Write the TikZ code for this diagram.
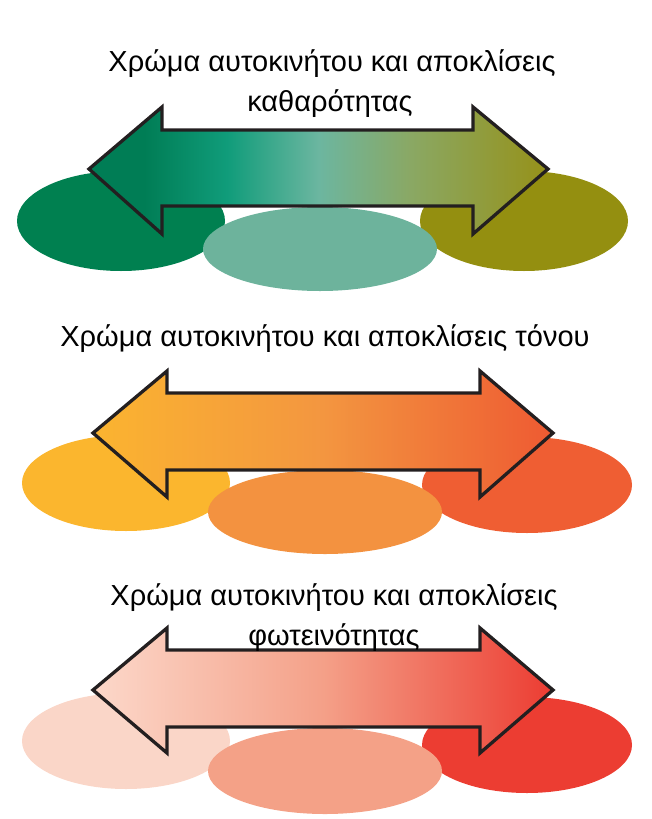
\documentclass[tikz,border=0pt]{standalone}
\usepackage{fontspec}
\setmainfont{Liberation Sans}
\definecolor{g1}{RGB}{0,125,85}
\definecolor{g2}{RGB}{16,156,122}
\definecolor{g3}{RGB}{108,182,160}
\definecolor{g4}{RGB}{138,168,100}
\definecolor{g5}{RGB}{150,145,25}
\definecolor{gL}{RGB}{0,128,80}
\definecolor{gC}{RGB}{109,179,156}
\definecolor{gR}{RGB}{148,143,16}
\definecolor{o1}{RGB}{251,180,48}
\definecolor{o3}{RGB}{243,150,64}
\definecolor{o5}{RGB}{238,90,50}
\definecolor{oL}{RGB}{251,182,46}
\definecolor{oC}{RGB}{243,146,64}
\definecolor{oR}{RGB}{239,94,51}
\definecolor{r1}{RGB}{252,216,202}
\definecolor{r3}{RGB}{244,160,136}
\definecolor{r5}{RGB}{236,60,50}
\definecolor{rL}{RGB}{250,214,200}
\definecolor{rC}{RGB}{244,161,135}
\definecolor{rR}{RGB}{236,61,50}
\definecolor{outline}{RGB}{35,31,32}
\pgfdeclarehorizontalshading{greensh}{100bp}{color(0bp)=(g1); color(25bp)=(g1); color(31bp)=(g1); color(40bp)=(g2); color(50bp)=(g3); color(60bp)=(g4); color(75bp)=(g5); color(100bp)=(g5)}
\pgfdeclarehorizontalshading{orangesh}{100bp}{color(0bp)=(o1); color(25bp)=(o1); color(50bp)=(o3); color(75bp)=(o5); color(100bp)=(o5)}
\pgfdeclarehorizontalshading{redsh}{100bp}{color(0bp)=(r1); color(25bp)=(r1); color(50bp)=(r3); color(75bp)=(r5); color(100bp)=(r5)}
\tikzset{
  bigarrow/.style={draw=outline, line width=3.3pt, line join=miter},
  title/.style={font=\fontsize{29}{34}\selectfont, text=black, inner sep=0pt, anchor=base}
}
\begin{document}
\begin{tikzpicture}[x=1pt,y=-1pt]
\useasboundingbox (0,0) rectangle (652,819);
% ---------- section 1 ----------
\fill[gL] (121,221) ellipse [x radius=104, y radius=50];
\fill[gR] (524,221) ellipse [x radius=104, y radius=50];
\fill[gC] (320,249) ellipse [x radius=117, y radius=42];
\path[bigarrow, shading=greensh] (89,169) -- (162,107) -- (162,130) -- (473,130) -- (473,107) -- (548,169) -- (473,234) -- (473,206) -- (162,206) -- (162,234) -- cycle;
\node[title] (t1a) at (332,71) {Χρώμα αυτοκινήτου και αποκλίσεις};
\node[title] (t1b) at (330,111) {καθαρότητας};
% ---------- section 2 ----------
\fill[oL] (126,483) ellipse [x radius=104, y radius=48];
\fill[oR] (527,485) ellipse [x radius=105, y radius=48];
\fill[oC] (325,512) ellipse [x radius=117, y radius=42];
\path[bigarrow, shading=orangesh] (93,433) -- (167,371) -- (167,393) -- (480,393) -- (480,371) -- (553,433) -- (480,497) -- (480,470) -- (167,470) -- (167,497) -- cycle;
\node[title] (t2) at (325,346) {Χρώμα αυτοκινήτου και αποκλίσεις τόνου};
% ---------- section 3 ----------
\fill[rL] (126,741) ellipse [x radius=104, y radius=48];
\fill[rR] (527,745) ellipse [x radius=105, y radius=48];
\fill[rC] (325,771) ellipse [x radius=117, y radius=43];
\path[bigarrow, shading=redsh] (93,690) -- (167,628) -- (167,650) -- (480,650) -- (480,628) -- (553,690) -- (480,753) -- (480,727) -- (167,727) -- (167,753) -- cycle;
\node[title] (t3a) at (334,605) {Χρώμα αυτοκινήτου και αποκλίσεις};
\node[title] (t3b) at (334,645) {φωτεινότητας};
\end{tikzpicture}
\end{document}
